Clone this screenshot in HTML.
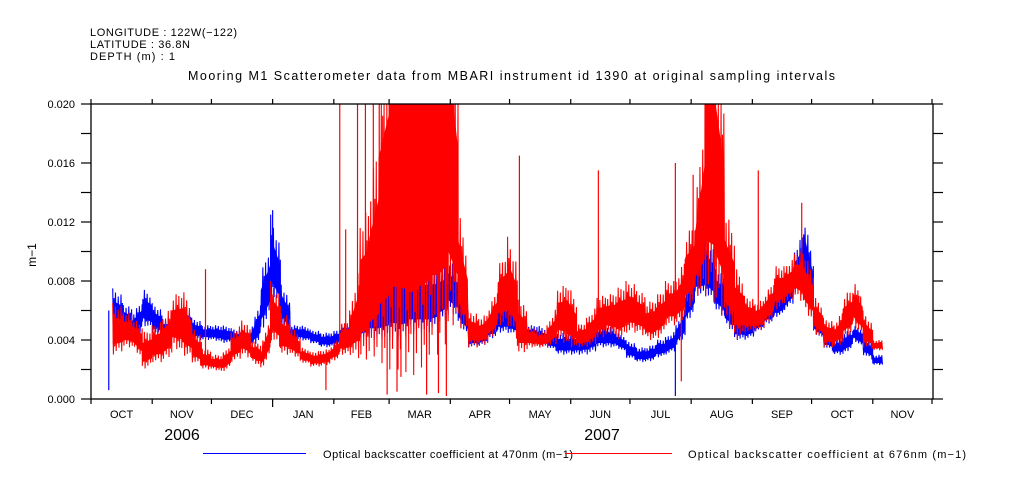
<!DOCTYPE html>
<html><head><meta charset="utf-8">
<style>
html,body{margin:0;padding:0;background:#fff;}
svg{display:block;font-family:"Liberation Sans",sans-serif;}
</style></head>
<body>
<svg id="chart" width="1009" height="504" viewBox="0 0 1009 504" xmlns="http://www.w3.org/2000/svg">
  <g font-size="11" fill="#000">
    <text x="90" y="36" textLength="147">LONGITUDE : 122W(−122)</text>
    <text x="90" y="48" textLength="100">LATITUDE : 36.8N</text>
    <text x="90" y="60" textLength="85">DEPTH (m) : 1</text>
  </g>
  <text x="188" y="80" textLength="647" font-size="12.5">Mooring M1 Scatterometer data from MBARI instrument id 1390 at original sampling intervals</text>
  <text x="0" y="0" transform="translate(36,255) rotate(-90)" text-anchor="middle" font-size="12">m−1</text>
  <g id="plot"></g>
  <g id="axes"></g>
  <g font-size="11">
    <line x1="203" y1="453.5" x2="306" y2="453.5" stroke="#0000ff" stroke-width="1"/>
    <text x="323" y="458" textLength="250">Optical backscatter coefficient at 470nm (m−1)</text>
    <line x1="565" y1="453.5" x2="672" y2="453.5" stroke="#ff0000" stroke-width="1"/>
    <text x="688" y="458" textLength="278">Optical backscatter coefficient at 676nm (m−1)</text>
  </g>
</svg>
<script>
// days since 2006-10-01 (bin starts every 5 days)
const binDays = [11,16,21,26,31,36,41,46,51,56,61,66,71,76,81,86,91,96,101,106,111,116,121,126,131,136,141,146,151,156,161,166,171,176,181,186,191,196,201,206,211,216,221,226,231,236,241,246,251,256,261,266,271,276,281,286,291,296,301,306,311,316,321,326,331,336,341,346,351,356,361,366,371,376,381,386,391,396];
// values in units of 0.001 m-1 (values above 20 are off-scale / clipped at top)
const blueLo = [4.5,4.5,4.0,5.0,4.5,4.0,4.0,4.5,4.0,4.0,4.0,3.8,3.8,3.5,3.5,4.5,7,5,4,4,3.8,3.5,3.5,3.8,4,4,4,4,4,4,4.5,4.5,4.5,5,6,5,3.5,3.5,4,4.5,4.5,4,4,3.5,3.5,3,3,3,3,3.5,3.5,3.5,2.8,2.5,2.5,2.8,3,3.5,5,7,7,6,5,4,4,4.5,5,5.5,6,7,8,4.5,3.5,3,3,4,3,2.3];
const blueHi = [7.5,6.5,5.8,7.5,6.5,5.5,5.5,6.5,5.5,5.0,5.0,5.0,4.8,4.5,4.8,8.5,12.5,8,5,5,4.7,4.5,4.5,5.0,5.5,6,8,8,10,9,9,9,9,9,9.5,8,5,4.8,5.5,6.5,6.5,5.5,5,5,4.5,4.5,4.5,4.5,5,5,5,4.5,4,3.5,3.5,4,4.2,5,7.5,10,11,9,7.5,6,5.5,5.5,6.5,7,7.5,10,12.5,6,5,4,4.5,5,4.5,3];
const redLo = [3,3.5,3.5,2,2.5,2.5,3.5,3,2.5,2,2,1.8,2.5,3,2.5,2,4,3,3,2.5,2.2,2.2,2.5,3,3,2.5,3,2.5,2,2,1.5,2,3,3,5,5,3.5,3.5,4,5,5,3,3.5,3.5,3.5,4,3.5,3.5,3.5,4,4.5,4,4.5,4.5,4,4,5,5,6,7,7,6,5,4,4.5,4.5,5,6,6.5,7,6,4.5,3.5,3.5,4,5,3.5,3.3];
const redHi = [6.5,6,5.5,4.5,5,5.5,7,7.5,5,3.5,3,3,4.5,5.5,4,3.5,8,6,5,3.5,3.2,3.3,3.5,5,6,12,14,22,30,30,30,30,30,30,30,13,6,5.5,6,9,11,7,5,4.5,5,7.5,8,5,5.5,7,7,7.5,8,7.5,6.5,7,8,8,11,13,26,26,13,9,7,6.5,7,9,9,10,10,7,5.5,5,7,8,6,4];
// isolated spikes (day, value)
const redSpikeDays = [58,126,129,135,139,143,146,217,257,296,305,338,360,389,119];
const redSpikeVals = [8.8,20,11.5,20,20,20,20,16.5,15.5,16,15.2,15.5,13.3,7,0.6];
const redDipDays = [150,155,170,176,180,157,299];
const redDipVals = [0.3,0.5,0.3,0.4,0.2,1.5,1.2];
const blueSpikeDays = [9,92,296];
const blueSpikeVals = [0.6,12.8,0.2];
const yTicks = [0,4,8,12,16,20];
const yTickLabels = ["0.000","0.004","0.008","0.012","0.016","0.020"];
const monthLabels = ["OCT","NOV","DEC","JAN","FEB","MAR","APR","MAY","JUN","JUL","AUG","SEP","OCT","NOV"];
const monthStarts = [0,31,61,92,123,151,182,212,243,273,304,335,365,396,426];

const X0=91, X1=933, Y0=399, Y1=104, DAY0=0, DAY1=426.5;
const xs = d => X0 + (d-DAY0)/(DAY1-DAY0)*(X1-X0);
const ys = v => Y0 - Math.min(v,20)/20*(Y0-Y1);
const NS="http://www.w3.org/2000/svg";
const plot=document.getElementById('plot'), axes=document.getElementById('axes');
function mk(tag, attrs, parent){const e=document.createElementNS(NS,tag);for(const k in attrs)e.setAttribute(k,attrs[k]);parent.appendChild(e);return e;}

const tex=[1,0,0.8,0.15,0.95,0.05,0.7,0.25,0.9,0.1,0.6,0.3];
function band(lo,hi,color,name){
  let pts=[], top=[], bot=[]; let k=0;
  const step=0.35;
  for(let i=0;i<binDays.length;i++){
    for(let s=0;s<5-1e-6;s+=step){
      const f=s/5;
      const nx=Math.min(i+1,binDays.length-1);
      const l=lo[i]*(1-f*0.5)+lo[nx]*(f*0.5);
      const h=hi[i]*(1-f*0.5)+hi[nx]*(f*0.5);
      const t=tex[k%tex.length];
      const x=xs(binDays[i]+s).toFixed(2);
      pts.push(x+','+ys(l+(h-l)*t).toFixed(2));
      top.push(x+','+ys(l+(h-l)*0.72).toFixed(2));
      bot.unshift(x+','+ys(l+(h-l)*0.2).toFixed(2));
      k++;
    }
  }
  const c=mk('polygon',{points:top.concat(bot).join(' '),fill:color,stroke:'none'},plot);
  
  
  const p=mk('polyline',{points:pts.join(' '),fill:'none',stroke:color,'stroke-width':1.1,'stroke-linejoin':'bevel'},plot);
  
  
}
function spikes(days,vals,lo,hi,color,name){
  for(let i=0;i<days.length;i++){
    let k=Math.max(0,Math.min(binDays.length-1,Math.floor((days[i]-11)/5)));
    const mid=(lo[k]+Math.min(hi[k],20))/2;
    const l=mk('line',{x1:xs(days[i]),x2:xs(days[i]),y1:ys(mid),y2:ys(vals[i]),stroke:color,'stroke-width':1.2},plot);
    
    
  }
}
band(blueLo,blueHi,'#0000ff','series-470nm');
spikes(blueSpikeDays,blueSpikeVals,blueLo,blueHi,'#0000ff','spike-470nm');
band(redLo,redHi,'#ff0000','series-676nm');
spikes(redSpikeDays,redSpikeVals,redLo,redHi,'#ff0000','spike-676nm');
spikes(redDipDays,redDipVals,redLo,redHi,'#ff0000','dip-676nm');

const fr=mk('rect',{x:X0,y:Y1,width:X1-X0,height:Y0-Y1,fill:'none',stroke:'#000','stroke-width':1.3},axes);


for(let v=0; v<=20; v+=2){
  const y=ys(v);
  mk('line',{x1:X0-10,x2:X0,y1:y,y2:y,stroke:'#000','stroke-width':1.2},axes);
  mk('line',{x1:X1,x2:X1+10,y1:y,y2:y,stroke:'#000','stroke-width':1.2},axes);
}
for(let i=0;i<yTicks.length;i++){
  const t=mk('text',{x:75,y:ys(yTicks[i])+4,'text-anchor':'end','font-size':11},axes);
  t.textContent=yTickLabels[i];
  
  
}
for(let i=0;i<monthStarts.length;i++){
  const x=xs(monthStarts[i]);
  const long = monthStarts[i]===92;
  mk('line',{x1:x,x2:x,y1:Y0,y2:Y0+(long?8:5),stroke:'#000','stroke-width':1.2},axes);
  mk('line',{x1:x,x2:x,y1:Y1-5,y2:Y1,stroke:'#000','stroke-width':1.2},axes);
}
for(let i=0;i<monthLabels.length;i++){
  const x=(xs(monthStarts[i])+xs(monthStarts[i+1]))/2;
  const t=mk('text',{x:x,y:418,'text-anchor':'middle','font-size':11},axes);
  t.textContent=monthLabels[i];
  
  
}
const y1=mk('text',{x:182,y:440,'text-anchor':'middle','font-size':16},axes);
y1.textContent='2006';


const y2=mk('text',{x:602,y:440,'text-anchor':'middle','font-size':16},axes);
y2.textContent='2007';


</script>
</body></html>
